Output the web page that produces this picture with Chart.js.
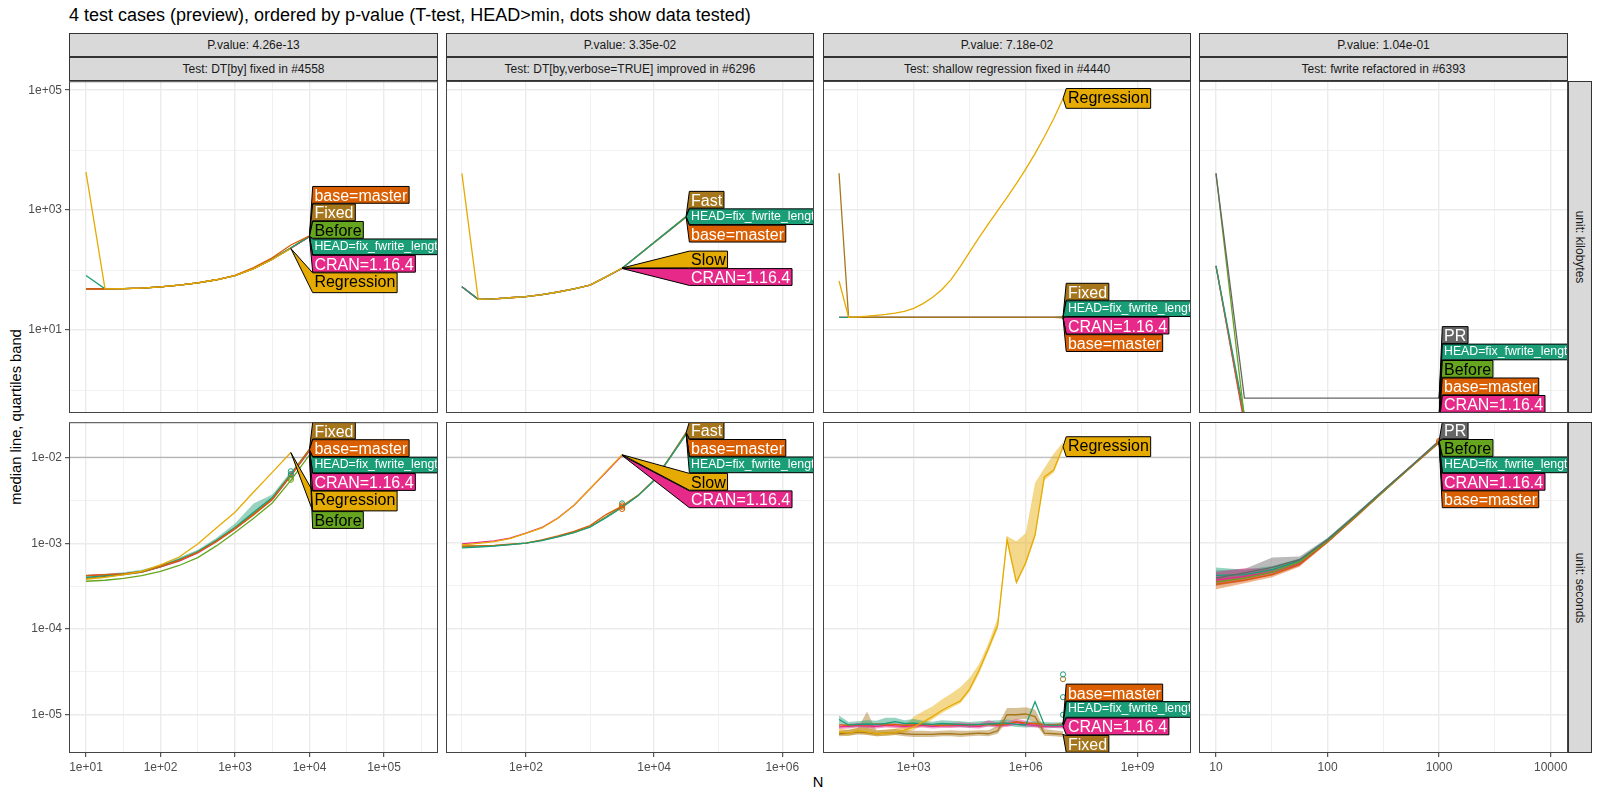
<!DOCTYPE html>
<html>
<head>
<meta charset="utf-8">
<script src="https://cdn.jsdelivr.net/npm/chart.js@4.4.1/dist/chart.umd.min.js"></script>
<style>
  html, body { margin: 0; padding: 0; background: #fff; }
  body { width: 1600px; height: 800px; position: relative; overflow: hidden; font-family: "Liberation Sans", Arial, sans-serif; color: #000; }
  .txt { position: absolute; white-space: nowrap; }
  .strip { position: absolute; box-sizing: border-box; background: #D9D9D9; border: 1px solid #333; color: #1A1A1A;
           font-size: 12px; display: flex; align-items: center; justify-content: center; white-space: nowrap; }
  .strip.vert span { transform: rotate(90deg); }
  canvas { position: absolute; }
</style>
</head>
<body>
<div class="txt" style="left:69px;top:6px;font-size:18px;line-height:18px;">4 test cases (preview), ordered by p-value (T-test, HEAD&gt;min, dots show data tested)</div>
<div class="txt" style="left:16px;top:417px;font-size:14.7px;transform:translate(-50%,-50%) rotate(-90deg);">median line, quartiles band</div>
<div class="txt" style="left:818px;top:782px;font-size:14.7px;transform:translate(-50%,-50%);">N</div>
<div id="root"></div>
<script>
// ── Strip texts ───────────────────────────────────────────────────
const P_VALUES = ['4.26e-13', '3.35e-02', '7.18e-02', '1.04e-01'];
const TEST_NAMES = ['DT[by] fixed in #4558', 'DT[by,verbose=TRUE] improved in #6296',
                    'shallow regression fixed in #4440', 'fwrite refactored in #6393'];
const UNITS = ['kilobytes', 'seconds'];

// ── Axis ranges / ticks (log10 exponents) ─────────────────────────
const X_RANGE = [[0.772, 5.725], [0.752, 6.495], [0.570, 10.428], [0.848, 4.155]];
const X_MAJOR = [[1, 2, 3, 4, 5], [2, 4, 6], [3, 6, 9], [1, 2, 3, 4]];
const X_MINOR = [[1.5, 2.5, 3.5, 4.5, 5.5], [1, 3, 5], [1.5, 4.5, 7.5], [1.5, 2.5, 3.5]];
const Y_RANGE = [[-0.383, 5.15], [-5.446, -1.589]];
const Y_MAJOR = [[1, 3, 5], [-5, -4, -3, -2]];
const Y_MINOR = [[0, 2, 4], [-4.5, -3.5, -2.5]];
const REF_SECONDS = 0.01;

// ── Test 1: DT[by] fixed in #4558 ─────────────────────────────────
const N_BY = [10, 18, 32, 56, 100, 178, 316, 562, 1000, 1778, 3162, 5623, 10000];
const BY_KB_BEFORE = [48.7, 48.7, 49, 50, 52.5, 56, 61, 69, 81, 106, 152, 232, 365];
const BY_KB_CRAN   = [48.7, 48.7, 49, 50, 52.5, 56, 61, 69, 81, 106, 152, 232, 359];
const BY_KB_FIXED  = [48.7, 48.7, 49, 50, 52.5, 56, 61, 69, 81, 106, 152, 234, 368];
const BY_KB_HEAD   = [81.5, 48.7, 49, 50, 52.5, 56, 61, 69, 81, 106, 152, 236, 362];
const BY_KB_BASE   = [48.7, 48.7, 49, 50, 52.5, 56, 61, 69, 82, 110, 160, 262, 372];
const BY_KB_REGR   = [4300, 48.7, 49, 50, 52.5, 56, 61, 69, 81, 105, 150, 229];
const BY_S_BEFORE = [3.6e-4, 3.7e-4, 3.9e-4, 4.2e-4, 4.7e-4, 5.5e-4, 6.8e-4, 9.3e-4, 1.33e-3, 1.95e-3, 2.95e-3, 5.4e-3, 1.07e-2];
const BY_S_CRAN   = [4.2e-4, 4.3e-4, 4.4e-4, 4.6e-4, 5.3e-4, 6.2e-4, 7.7e-4, 1.04e-3, 1.47e-3, 2.15e-3, 3.2e-3, 6.1e-3, 1.19e-2];
const BY_S_FIXED  = [3.9e-4, 4.1e-4, 4.3e-4, 4.6e-4, 5.3e-4, 6.3e-4, 7.9e-4, 1.07e-3, 1.5e-3, 2.2e-3, 3.3e-3, 6.3e-3, 1.25e-2];
const BY_S_HEAD   = [4.0e-4, 4.2e-4, 4.4e-4, 4.7e-4, 5.4e-4, 6.5e-4, 8.0e-4, 1.08e-3, 1.52e-3, 2.3e-3, 3.4e-3, 6.4e-3, 1.21e-2];
const BY_S_BASE   = [4.2e-4, 4.3e-4, 4.4e-4, 4.7e-4, 5.4e-4, 6.3e-4, 7.8e-4, 1.05e-3, 1.48e-3, 2.15e-3, 3.25e-3, 6.2e-3, 1.23e-2];
const BY_S_REGR   = [3.8e-4, 4.0e-4, 4.3e-4, 4.7e-4, 5.6e-4, 6.9e-4, 9.8e-4, 1.5e-3, 2.3e-3, 3.95e-3, 6.7e-3, 1.14e-2];
const BY_S_HEAD_LO = [3.8e-4, 4.0e-4, 4.2e-4, 4.5e-4, 5.2e-4, 6.2e-4, 7.7e-4, 1.04e-3, 1.46e-3, 2.2e-3, 3.3e-3, 6.1e-3, 1.17e-2];
const BY_S_HEAD_HI = [4.3e-4, 4.4e-4, 4.6e-4, 4.9e-4, 5.6e-4, 6.8e-4, 8.4e-4, 1.15e-3, 1.7e-3, 2.9e-3, 3.7e-3, 6.8e-3, 1.27e-2];
const BY_DOTS_HEAD = [6.9e-3, 6.4e-3];
const BY_DOTS_BEFORE = [5.8e-3, 5.5e-3];
const BY_DOTS_CRAN = [6.2e-3];

// ── Test 2: DT[by,verbose=TRUE] improved in #6296 ─────────────────
const N_VERBOSE = [10, 18, 32, 56, 100, 178, 316, 562, 1000, 1778, 3162, 5623, 10000, 17783, 31623];
const VERBOSE_KB_BASE = [52.7, 32.5, 33, 34.5, 36, 39, 43, 48.5, 56, 77, 107, 174, 284, 465, 757];
const VERBOSE_KB_FAST = [52.7, 32.5, 33, 34.5, 36, 39, 43, 48.5, 56, 77, 107, 176, 290, 478, 790];
const VERBOSE_KB_HEAD = [52.7, 32.5, 33, 34.5, 36, 39, 43, 48.5, 56, 77, 107, 175, 287, 471, 773];
const VERBOSE_KB_CRAN = [52.7, 32.5, 33, 34.5, 36, 39, 43, 48.5, 56, 77, 106];
const VERBOSE_KB_SLOW = [4090, 32.5, 33, 34.5, 36, 39, 43, 48.5, 56, 77, 108];
const VERBOSE_S_BASE = [9.3e-4, 9.3e-4, 9.4e-4, 9.7e-4, 1.0e-3, 1.09e-3, 1.21e-3, 1.37e-3, 1.6e-3, 2.15e-3, 2.7e-3, 3.6e-3, 5.4e-3, 1.0e-2, 1.9e-2];
const VERBOSE_S_FAST = [9.1e-4, 9.2e-4, 9.35e-4, 9.6e-4, 1.0e-3, 1.08e-3, 1.19e-3, 1.33e-3, 1.55e-3, 2.03e-3, 2.65e-3, 3.6e-3, 5.45e-3, 1.01e-2, 1.95e-2];
const VERBOSE_S_HEAD = [8.8e-4, 9.0e-4, 9.2e-4, 9.6e-4, 1.0e-3, 1.07e-3, 1.18e-3, 1.32e-3, 1.53e-3, 1.98e-3, 2.6e-3, 3.55e-3, 5.35e-3, 9.9e-3, 1.85e-2];
const VERBOSE_S_CRAN = [9.8e-4, 1.02e-3, 1.06e-3, 1.14e-3, 1.31e-3, 1.52e-3, 1.96e-3, 2.76e-3, 4.3e-3, 6.7e-3, 1.05e-2];
const VERBOSE_S_SLOW = [9.5e-4, 9.9e-4, 1.04e-3, 1.13e-3, 1.3e-3, 1.5e-3, 1.95e-3, 2.75e-3, 4.3e-3, 6.8e-3, 1.07e-2];
const VERBOSE_DOTS_BASE = [2.5e-3, 2.65e-3, 2.75e-3];
const VERBOSE_DOTS_HEAD = [2.9e-3];

// ── Test 3: shallow regression fixed in #4440 ─────────────────────
const N_SHALLOW = [10, 18, 32, 56, 100, 178, 316, 562, 1000, 1778, 3162, 5623, 10000, 17783, 31623, 56234,
                   100000, 177828, 316228, 562341, 1000000, 1778279, 3162278, 5623413, 10000000];
const SHALLOW_KB_CRAN  = [16.3, 16.3, 16.3, 16.3, 16.3, 16.3, 16.3, 16.3, 16.3, 16.3, 16.3, 16.3, 16.3, 16.3, 16.3, 16.3, 16.3, 16.3, 16.3, 16.3, 16.3, 16.3, 16.3, 16.3, 16.2];
const SHALLOW_KB_BASE  = [16.3, 16.3, 16.3, 16.3, 16.3, 16.3, 16.3, 16.3, 16.3, 16.3, 16.3, 16.3, 16.3, 16.3, 16.3, 16.3, 16.3, 16.3, 16.3, 16.3, 16.3, 16.3, 16.3, 16.3, 16.0];
const SHALLOW_KB_HEAD  = [16.3, 16.3, 16.3, 16.3, 16.3, 16.3, 16.3, 16.3, 16.3, 16.3, 16.3, 16.3, 16.3, 16.3, 16.3, 16.3, 16.3, 16.3, 16.3, 16.3, 16.3, 16.3, 16.3, 16.3, 16.45];
const SHALLOW_KB_FIXED = [4090, 16.3, 16.3, 16.3, 16.3, 16.3, 16.3, 16.3, 16.3, 16.3, 16.3, 16.3, 16.3, 16.3, 16.3, 16.3, 16.3, 16.3, 16.3, 16.3, 16.3, 16.3, 16.3, 16.3, 16.6];
const SHALLOW_KB_REGR  = [65.6, 16.3, 16.6, 17.0, 17.6, 18.2, 19.1, 20.4, 23.0, 27.5, 34.7, 46.8, 69.2, 115, 200, 347,
                          589, 977, 1620, 2750, 4790, 8710, 16600, 33100, 72400];
const SHALLOW_S_CRAN  = [7.2e-6, 7.3e-6, 7.5e-6, 7.4e-6, 7.3e-6, 7.5e-6, 7.4e-6, 7.3e-6, 7.4e-6, 7.5e-6, 7.3e-6, 7.4e-6, 7.4e-6,
                         7.5e-6, 7.4e-6, 7.3e-6, 7.8e-6, 7.5e-6, 7.6e-6, 8.2e-6, 7.7e-6, 7.5e-6, 7.3e-6, 7.4e-6, 7.3e-6];
const SHALLOW_S_BASE  = [7.6e-6, 7.5e-6, 7.7e-6, 7.6e-6, 7.8e-6, 7.6e-6, 7.7e-6, 7.5e-6, 7.6e-6, 7.7e-6, 7.6e-6, 7.5e-6, 7.6e-6,
                         7.7e-6, 7.6e-6, 7.6e-6, 7.7e-6, 7.6e-6, 7.8e-6, 8.3e-6, 8.0e-6, 7.9e-6, 7.7e-6, 7.6e-6, 7.8e-6];
const SHALLOW_S_HEAD  = [8.8e-6, 7.6e-6, 7.7e-6, 7.8e-6, 7.7e-6, 7.9e-6, 8.3e-6, 7.9e-6, 8.0e-6, 7.8e-6, 7.7e-6, 7.9e-6, 7.8e-6,
                         7.7e-6, 7.6e-6, 7.7e-6, 7.8e-6, 7.9e-6, 8.0e-6, 7.7e-6, 7.6e-6, 1.42e-5, 7.6e-6, 7.5e-6, 7.6e-6];
const SHALLOW_S_FIXED = [6.0e-6, 6.1e-6, 6.3e-6, 6.2e-6, 6.0e-6, 6.1e-6, 6.2e-6, 6.0e-6, 5.9e-6, 5.9e-6, 5.9e-6, 6.0e-6, 6.0e-6,
                         5.9e-6, 6.0e-6, 6.1e-6, 6.0e-6, 6.5e-6, 1.0e-5, 1.0e-5, 1.02e-5, 9.5e-6, 6.1e-6, 6.0e-6, 5.9e-6];
const SHALLOW_S_REGR  = [6.3e-6, 6.1e-6, 6.5e-6, 6.3e-6, 6.0e-6, 6.1e-6, 6.2e-6, 6.6e-6, 7.2e-6, 8.2e-6, 9.5e-6, 1.12e-5, 1.28e-5,
                         1.45e-5, 2.0e-5, 3.3e-5, 5.9e-5, 1.1e-4, 1.1e-3, 3.5e-4, 5.9e-4, 1.24e-3, 5.9e-3, 7.1e-3, 1.33e-2];
const SHALLOW_S_CRAN_LO  = [6.8e-6, 6.9e-6, 7.1e-6, 7.0e-6, 6.9e-6, 7.1e-6, 7.0e-6, 6.9e-6, 7.0e-6, 7.1e-6, 6.9e-6, 7.0e-6, 7.0e-6,
                            7.1e-6, 7.0e-6, 6.9e-6, 7.3e-6, 7.1e-6, 7.2e-6, 7.6e-6, 7.3e-6, 7.1e-6, 6.9e-6, 7.0e-6, 6.9e-6];
const SHALLOW_S_CRAN_HI  = [7.7e-6, 7.8e-6, 8.0e-6, 7.9e-6, 7.8e-6, 8.0e-6, 7.9e-6, 7.8e-6, 7.9e-6, 8.0e-6, 7.8e-6, 7.9e-6, 8.0e-6,
                            8.1e-6, 8.0e-6, 7.9e-6, 8.6e-6, 8.1e-6, 8.3e-6, 9.0e-6, 8.5e-6, 8.0e-6, 7.8e-6, 7.9e-6, 7.8e-6];
const SHALLOW_S_HEAD_LO  = [7.8e-6, 7.1e-6, 7.2e-6, 7.3e-6, 7.2e-6, 7.4e-6, 7.6e-6, 7.4e-6, 7.5e-6, 7.3e-6, 7.2e-6, 7.4e-6, 7.3e-6,
                            7.2e-6, 7.1e-6, 7.2e-6, 7.3e-6, 7.4e-6, 7.5e-6, 7.2e-6, 7.1e-6, 7.2e-6, 7.1e-6, 7.0e-6, 7.1e-6];
const SHALLOW_S_HEAD_HI  = [9.8e-6, 8.2e-6, 8.4e-6, 8.6e-6, 8.5e-6, 9.2e-6, 9.2e-6, 8.6e-6, 8.9e-6, 8.5e-6, 8.3e-6, 8.6e-6, 8.5e-6,
                            8.4e-6, 8.2e-6, 8.4e-6, 8.5e-6, 8.6e-6, 8.8e-6, 8.5e-6, 8.3e-6, 8.4e-6, 8.2e-6, 8.1e-6, 8.2e-6];
const SHALLOW_S_FIXED_LO = [5.6e-6, 5.7e-6, 5.9e-6, 5.8e-6, 5.6e-6, 5.7e-6, 5.8e-6, 5.6e-6, 5.5e-6, 5.5e-6, 5.5e-6, 5.6e-6, 5.6e-6,
                            5.5e-6, 5.6e-6, 5.7e-6, 5.6e-6, 6.0e-6, 8.5e-6, 8.8e-6, 9.0e-6, 8.0e-6, 5.7e-6, 5.6e-6, 5.5e-6];
const SHALLOW_S_FIXED_HI = [6.5e-6, 6.7e-6, 7.0e-6, 1.08e-5, 6.6e-6, 6.7e-6, 6.8e-6, 6.6e-6, 6.5e-6, 6.5e-6, 6.4e-6, 6.5e-6, 6.6e-6,
                            6.5e-6, 6.5e-6, 6.6e-6, 6.6e-6, 7.5e-6, 1.2e-5, 1.2e-5, 1.22e-5, 1.15e-5, 6.8e-6, 6.6e-6, 6.4e-6];
const SHALLOW_S_REGR_LO  = [5.8e-6, 5.7e-6, 6.0e-6, 5.9e-6, 5.6e-6, 5.7e-6, 5.8e-6, 6.1e-6, 6.7e-6, 7.6e-6, 8.8e-6, 1.04e-5, 1.2e-5,
                            1.36e-5, 1.85e-5, 3.0e-5, 5.4e-5, 1.0e-4, 1.0e-3, 3.3e-4, 5.6e-4, 1.15e-3, 5.4e-3, 6.6e-3, 1.23e-2];
const SHALLOW_S_REGR_HI  = [6.9e-6, 6.7e-6, 7.1e-6, 7.0e-6, 6.6e-6, 6.7e-6, 6.9e-6, 7.4e-6, 9.5e-6, 1.1e-5, 1.25e-5, 1.5e-5, 1.75e-5,
                            2.1e-5, 2.7e-5, 3.9e-5, 6.8e-5, 1.35e-4, 1.2e-3, 1.05e-3, 1.3e-3, 5.0e-3, 7.5e-3, 1.1e-2, 1.5e-2];
const SHALLOW_DOTS_HEAD = [2.95e-5, 1.6e-5, 1.0e-5];
const SHALLOW_DOTS_FIXED = [2.6e-5];

// ── Test 4: fwrite refactored in #6393 ────────────────────────────
const N_FWRITE = [10, 18, 32, 56, 100, 178, 316, 562, 1000];
const FWRITE_KB_CRAN   = [117, 0.27, 0.27, 0.27, 0.27, 0.27, 0.27, 0.27, 0.27];
const FWRITE_KB_BASE   = [117, 0.30, 0.30, 0.30, 0.30, 0.30, 0.30, 0.30, 0.30];
const FWRITE_KB_HEAD   = [117, 0.38, 0.38, 0.38, 0.38, 0.38, 0.38, 0.38, 0.38];
const FWRITE_KB_BEFORE = [4090, 0.34, 0.34, 0.34, 0.34, 0.34, 0.34, 0.34, 0.34];
const FWRITE_KB_PR     = [4090, 0.73, 0.73, 0.73, 0.73, 0.73, 0.73, 0.73, 0.73];
const FWRITE_S_CRAN   = [3.7e-4, 4.1e-4, 4.6e-4, 5.8e-4, 1.04e-3, 2.05e-3, 4.0e-3, 7.8e-3, 1.50e-2];
const FWRITE_S_BASE   = [3.3e-4, 3.7e-4, 4.3e-4, 5.6e-4, 1.03e-3, 2.0e-3, 3.95e-3, 7.7e-3, 1.48e-2];
const FWRITE_S_HEAD   = [4.2e-4, 4.3e-4, 4.9e-4, 6.2e-4, 1.10e-3, 2.1e-3, 4.1e-3, 7.9e-3, 1.52e-2];
const FWRITE_S_BEFORE = [3.5e-4, 3.9e-4, 4.6e-4, 6.0e-4, 1.06e-3, 2.05e-3, 4.0e-3, 7.8e-3, 1.54e-2];
const FWRITE_S_PR     = [3.9e-4, 4.5e-4, 5.2e-4, 6.4e-4, 1.09e-3, 2.1e-3, 4.1e-3, 7.9e-3, 1.56e-2];
const FWRITE_S_CRAN_LO   = [3.2e-4, 3.6e-4, 4.2e-4, 5.4e-4, 1.0e-3, 1.98e-3, 3.9e-3, 7.6e-3, 1.48e-2];
const FWRITE_S_CRAN_HI   = [4.6e-4, 5.1e-4, 5.0e-4, 6.3e-4, 1.08e-3, 2.1e-3, 4.1e-3, 7.9e-3, 1.53e-2];
const FWRITE_S_BASE_LO   = [2.9e-4, 3.4e-4, 4.0e-4, 5.3e-4, 1.0e-3, 1.95e-3, 3.9e-3, 7.6e-3, 1.46e-2];
const FWRITE_S_BASE_HI   = [3.7e-4, 4.1e-4, 4.7e-4, 6.0e-4, 1.06e-3, 2.05e-3, 4.0e-3, 7.8e-3, 1.50e-2];
const FWRITE_S_HEAD_LO   = [3.8e-4, 3.9e-4, 4.5e-4, 5.9e-4, 1.06e-3, 2.05e-3, 4.0e-3, 7.8e-3, 1.50e-2];
const FWRITE_S_HEAD_HI   = [5.2e-4, 4.9e-4, 5.4e-4, 6.6e-4, 1.15e-3, 2.2e-3, 4.2e-3, 8.0e-3, 1.55e-2];
const FWRITE_S_BEFORE_LO = [3.2e-4, 3.6e-4, 4.3e-4, 5.6e-4, 1.02e-3, 2.0e-3, 3.9e-3, 7.7e-3, 1.52e-2];
const FWRITE_S_BEFORE_HI = [3.9e-4, 4.3e-4, 5.1e-4, 6.4e-4, 1.10e-3, 2.1e-3, 4.1e-3, 7.9e-3, 1.56e-2];
const FWRITE_S_PR_LO     = [3.4e-4, 3.9e-4, 4.5e-4, 5.9e-4, 1.04e-3, 2.05e-3, 4.0e-3, 7.7e-3, 1.52e-2];
const FWRITE_S_PR_HI     = [4.8e-4, 5.0e-4, 6.8e-4, 7.0e-4, 1.15e-3, 2.2e-3, 4.2e-3, 8.1e-3, 1.60e-2];
const FWRITE_DOTS_BASE = [1.5e-2, 1.55e-2];

// ── Colours (Dark2) ───────────────────────────────────────────────
const HEAD = 'HEAD=fix_fwrite_length', CRAN = 'CRAN=1.16.4', BASE = 'base=master';
const COLORS = {
  'Before': '#66A61E', [BASE]: '#D95F02', 'Fixed': '#A6761D', [HEAD]: '#1B9E77', [CRAN]: '#E7298A',
  'Regression': '#E6AB02', 'Fast': '#A6761D', 'Slow': '#E6AB02', 'PR': '#666666',
};
const DARK_TEXT = ['Before', 'Regression', 'Slow'];
const FONT = '"Liberation Sans", Arial, sans-serif';

// panel rectangles on the page
const PANEL_LEFT = [69, 446, 823, 1199];
const PANEL_RIGHT = [438, 814, 1191, 1568];
const PANEL_TOP = [81, 422];
const PANEL_BOTTOM = [413, 753];

// series lists, in drawing order (last on top)
const TESTS = [
  { n: N_BY, dotN: 5623,
    kb: [['Before', BY_KB_BEFORE], [CRAN, BY_KB_CRAN], ['Fixed', BY_KB_FIXED], [HEAD, BY_KB_HEAD], [BASE, BY_KB_BASE], ['Regression', BY_KB_REGR]],
    s:  [['Before', BY_S_BEFORE], [CRAN, BY_S_CRAN], ['Fixed', BY_S_FIXED], [HEAD, BY_S_HEAD], [BASE, BY_S_BASE], ['Regression', BY_S_REGR]],
    bands: [[HEAD, BY_S_HEAD_LO, BY_S_HEAD_HI]],
    dots: [[HEAD, BY_DOTS_HEAD], ['Before', BY_DOTS_BEFORE], [CRAN, BY_DOTS_CRAN]] },
  { n: N_VERBOSE, dotN: 3162,
    kb: [[BASE, VERBOSE_KB_BASE], ['Fast', VERBOSE_KB_FAST], [CRAN, VERBOSE_KB_CRAN], [HEAD, VERBOSE_KB_HEAD], ['Slow', VERBOSE_KB_SLOW]],
    s:  [[BASE, VERBOSE_S_BASE], ['Fast', VERBOSE_S_FAST], [HEAD, VERBOSE_S_HEAD], [CRAN, VERBOSE_S_CRAN], ['Slow', VERBOSE_S_SLOW]],
    bands: [],
    dots: [[BASE, VERBOSE_DOTS_BASE], [HEAD, VERBOSE_DOTS_HEAD]] },
  { n: N_SHALLOW, dotN: 10000000,
    kb: [[CRAN, SHALLOW_KB_CRAN], [BASE, SHALLOW_KB_BASE], [HEAD, SHALLOW_KB_HEAD], ['Fixed', SHALLOW_KB_FIXED], ['Regression', SHALLOW_KB_REGR]],
    s:  [[CRAN, SHALLOW_S_CRAN], [BASE, SHALLOW_S_BASE], [HEAD, SHALLOW_S_HEAD], ['Fixed', SHALLOW_S_FIXED], ['Regression', SHALLOW_S_REGR]],
    bands: [[CRAN, SHALLOW_S_CRAN_LO, SHALLOW_S_CRAN_HI], [HEAD, SHALLOW_S_HEAD_LO, SHALLOW_S_HEAD_HI],
            ['Fixed', SHALLOW_S_FIXED_LO, SHALLOW_S_FIXED_HI], ['Regression', SHALLOW_S_REGR_LO, SHALLOW_S_REGR_HI]],
    dots: [[HEAD, SHALLOW_DOTS_HEAD], ['Fixed', SHALLOW_DOTS_FIXED]] },
  { n: N_FWRITE, dotN: 1000,
    kb: [[CRAN, FWRITE_KB_CRAN], [BASE, FWRITE_KB_BASE], [HEAD, FWRITE_KB_HEAD], ['Before', FWRITE_KB_BEFORE], ['PR', FWRITE_KB_PR]],
    s:  [[CRAN, FWRITE_S_CRAN], [BASE, FWRITE_S_BASE], [HEAD, FWRITE_S_HEAD], ['Before', FWRITE_S_BEFORE], ['PR', FWRITE_S_PR]],
    bands: [[CRAN, FWRITE_S_CRAN_LO, FWRITE_S_CRAN_HI], [BASE, FWRITE_S_BASE_LO, FWRITE_S_BASE_HI], [HEAD, FWRITE_S_HEAD_LO, FWRITE_S_HEAD_HI],
            ['Before', FWRITE_S_BEFORE_LO, FWRITE_S_BEFORE_HI], ['PR', FWRITE_S_PR_LO, FWRITE_S_PR_HI]],
    dots: [[BASE, FWRITE_DOTS_BASE]] },
];

// ── helpers ───────────────────────────────────────────────────────
const hexA = (hex, a) => {
  const v = parseInt(hex.slice(1), 16);
  return `rgba(${v >> 16},${(v >> 8) & 255},${v & 255},${a})`;
};
const sciLabel = v => {
  const e = Math.round(Math.log10(v));
  return '1e' + (e < 0 ? '-' : '+') + String(Math.abs(e)).padStart(2, '0');
};
const plainLabel = v => String(Math.round(v));

function logAxis(range, major, minor, show, fmt, horizontal) {
  return {
    type: 'logarithmic',
    min: Math.pow(10, range[0]),
    max: Math.pow(10, range[1]),
    bounds: 'data',
    afterBuildTicks: s => {
      s.ticks = minor.map(e => ({ value: Math.pow(10, e), minor: true }))
        .concat(major.map(e => ({ value: Math.pow(10, e) })))
        .sort((a, b) => a.value - b.value);
    },
    afterFit: s => { if (horizontal) s.height = 22; else s.width = 64; },
    border: { display: false },
    grid: {
      color: '#EBEBEB',
      lineWidth: c => (c.tick && c.tick.minor) ? 0.7 : 1.4,
      drawTicks: show,
      tickLength: 4,
      tickWidth: 1,
      tickColor: c => (c.tick && c.tick.minor) ? 'rgba(0,0,0,0)' : '#333333',
    },
    ticks: {
      display: show, autoSkip: false, maxRotation: 0, minRotation: 0, padding: 3,
      color: '#4D4D4D', font: { family: FONT, size: 12 },
      callback: (v, i, t) => (t[i] && t[i].minor) ? '' : fmt(v),
    },
  };
}

// grey reference line at 0.01 s
const refLine = {
  id: 'refLine',
  beforeDatasetsDraw(chart, args, opts) {
    if (!opts.show) return;
    const { ctx, chartArea: a } = chart;
    const y = chart.scales.y.getPixelForValue(REF_SECONDS);
    ctx.save();
    ctx.strokeStyle = '#B3B3B3';
    ctx.lineWidth = 1.2;
    ctx.beginPath(); ctx.moveTo(a.left, y); ctx.lineTo(a.right, y); ctx.stroke();
    ctx.restore();
  }
};

// direct labels: boxes stacked next to the line ends, no overlap, kept inside the panel
const directLabels = {
  id: 'directLabels',
  afterDatasetsDraw(chart, args, opts) {
    const { ctx, chartArea: a } = chart;
    const xs = chart.scales.x, ys = chart.scales.y;
    const gap = 0.7;
    const labs = opts.items.map((it, k) => {
      const size = it.name.length > 15 ? 12.3 : 16;
      ctx.font = `${size}px ${FONT}`;
      const m = ctx.measureText(it.name);
      const asc = m.actualBoundingBoxAscent, desc = Math.max(0, m.actualBoundingBoxDescent);
      const pad = size * 0.3;
      return { name: it.name, k, size, asc, pad,
               tx: xs.getPixelForValue(it.x), ty: ys.getPixelForValue(it.y),
               w: m.width + 3.5, h: asc + desc + pad };
    });
    const x0 = Math.max(...labs.map(l => l.tx)) + 3.2;
    const sorted = labs.slice().sort((p, q) => (p.ty - q.ty) || (p.k - q.k));

    const place = b => {
      let t = b.sum / b.items.length;
      t = Math.min(t, a.bottom - b.H);
      t = Math.max(t, a.top);
      b.top = t;
    };
    const blocks = [];
    sorted.forEach(l => {
      const b = { items: [l], H: l.h + gap, sum: l.ty - l.h / 2 };
      place(b);
      blocks.push(b);
      while (blocks.length > 1) {
        const p = blocks[blocks.length - 2], c = blocks[blocks.length - 1];
        if (p.top + p.H <= c.top) break;
        p.sum += c.sum - c.items.length * p.H;
        p.items = p.items.concat(c.items);
        p.H += c.H;
        blocks.pop();
        place(p);
      }
    });

    ctx.save();
    ctx.beginPath(); ctx.rect(a.left, a.top, a.right - a.left, a.bottom - a.top); ctx.clip();
    blocks.forEach(b => {
      let y = b.top;
      b.items.forEach(l => {
        const top = y, bot = y + l.h;
        ctx.beginPath();
        ctx.moveTo(l.tx, l.ty);
        ctx.lineTo(x0, top); ctx.lineTo(x0 + l.w, top); ctx.lineTo(x0 + l.w, bot); ctx.lineTo(x0, bot);
        ctx.closePath();
        ctx.fillStyle = COLORS[l.name];
        ctx.fill();
        ctx.strokeStyle = '#000'; ctx.lineWidth = 1; ctx.lineJoin = 'miter';
        ctx.stroke();
        ctx.font = `${l.size}px ${FONT}`;
        ctx.fillStyle = DARK_TEXT.includes(l.name) ? '#000' : '#fff';
        ctx.textBaseline = 'alphabetic'; ctx.textAlign = 'left';
        ctx.fillText(l.name, x0 + 1.7, top + l.pad / 2 + l.asc);
        y = bot + gap;
      });
    });
    ctx.restore();
  }
};

const panelBorder = {
  id: 'panelBorder',
  afterDraw(chart) {
    const { ctx, chartArea: a } = chart;
    ctx.save();
    ctx.strokeStyle = '#444';
    ctx.lineWidth = 1;
    ctx.strokeRect(a.left + 0.5, a.top + 0.5, a.right - a.left - 1, a.bottom - a.top - 1);
    ctx.restore();
  }
};

function buildDatasets(test, row) {
  const n = test.n;
  const pts = vals => vals.map((v, i) => ({ x: n[i], y: v }));
  const ds = [];
  if (row === 1) {
    test.bands.forEach(([name, lo, hi]) => {
      ds.push({ data: pts(lo), borderColor: 'transparent', borderWidth: 0, pointRadius: 0, fill: false, order: 100, clip: 0 });
      ds.push({ data: pts(hi), borderColor: 'transparent', borderWidth: 0, pointRadius: 0,
                fill: '-1', backgroundColor: hexA(COLORS[name], 0.45), order: 100, clip: 0 });
    });
  }
  const series = row === 0 ? test.kb : test.s;
  series.forEach(([name, vals], k) => {
    ds.push({ label: name, data: pts(vals), borderColor: COLORS[name], borderWidth: 1.3,
              pointRadius: 0, fill: false, tension: 0, order: 50 - k, clip: 0 });
  });
  if (row === 1) {
    test.dots.forEach(([name, vals]) => {
      ds.push({ data: vals.map(v => ({ x: test.dotN, y: v })), showLine: false, pointRadius: 2.6,
                pointStyle: 'circle', pointBackgroundColor: 'rgba(0,0,0,0)', pointBorderColor: COLORS[name],
                pointBorderWidth: 1, order: 0, clip: 0 });
    });
  }
  const items = series.map(([name, vals]) => ({ name, x: n[vals.length - 1], y: vals[vals.length - 1] }));
  return { ds, items };
}

// ── page furniture: strips ───────────────────────────────────────
const root = document.getElementById('root');
function addStrip(left, top, w, h, text, vertical) {
  const d = document.createElement('div');
  d.className = 'strip' + (vertical ? ' vert' : '');
  Object.assign(d.style, { left: left + 'px', top: top + 'px', width: w + 'px', height: h + 'px' });
  const s = document.createElement('span');
  s.textContent = text;
  d.appendChild(s);
  root.appendChild(d);
}
TESTS.forEach((t, c) => {
  const w = PANEL_RIGHT[c] - PANEL_LEFT[c];
  addStrip(PANEL_LEFT[c], 33, w, 24, 'P.value: ' + P_VALUES[c]);
  addStrip(PANEL_LEFT[c], 57, w, 24, 'Test: ' + TEST_NAMES[c]);
});
UNITS.forEach((u, r) => addStrip(1568, PANEL_TOP[r], 24, PANEL_BOTTOM[r] - PANEL_TOP[r], 'unit: ' + u, true));

// ── charts ────────────────────────────────────────────────────────
const PAD_L = 64, PAD_R = 20, PAD_T = 10, PAD_B = 22;
[0, 1].forEach(row => {
  TESTS.forEach((test, col) => {
    const w = PANEL_RIGHT[col] - PANEL_LEFT[col] + PAD_L + PAD_R;
    const h = PANEL_BOTTOM[row] - PANEL_TOP[row] + PAD_T + PAD_B;
    const cv = document.createElement('canvas');
    cv.width = w; cv.height = h;
    Object.assign(cv.style, { left: (PANEL_LEFT[col] - PAD_L) + 'px', top: (PANEL_TOP[row] - PAD_T) + 'px',
                              width: w + 'px', height: h + 'px' });
    root.appendChild(cv);
    const { ds, items } = buildDatasets(test, row);
    new Chart(cv.getContext('2d'), {
      type: 'line',
      data: { datasets: ds },
      plugins: [refLine, directLabels, panelBorder],
      options: {
        responsive: false, animation: false, devicePixelRatio: 1, events: [],
        layout: { padding: { left: 0, right: PAD_R, top: PAD_T, bottom: 0 } },
        plugins: {
          legend: { display: false }, tooltip: { enabled: false },
          refLine: { show: row === 1 },
          directLabels: { items },
        },
        scales: {
          x: logAxis(X_RANGE[col], X_MAJOR[col], X_MINOR[col], row === 1, col === 3 ? plainLabel : sciLabel, true),
          y: logAxis(Y_RANGE[row], Y_MAJOR[row], Y_MINOR[row], col === 0, sciLabel, false),
        },
      },
    });
  });
});
</script>
</body>
</html>
